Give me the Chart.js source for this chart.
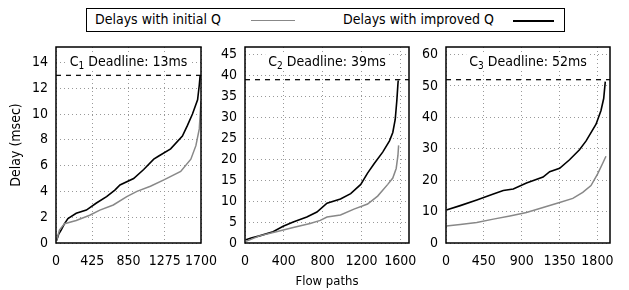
<!DOCTYPE html>
<html>
<head>
<meta charset="utf-8">
<script src="https://cdn.jsdelivr.net/npm/chart.js@4/dist/chart.umd.min.js"></script>
<style>
body { margin: 0; background: #fff; width: 629px; height: 290px; position: relative; overflow: hidden;
       font-family: "DejaVu Sans Condensed", "DejaVu Sans", sans-serif; }
canvas { position: absolute; left: 0; top: 0; }
#legend { position: absolute; left: 86px; top: 8px; width: 477px; height: 22px; border: 1px solid #000; font-size: 14px; }
.lt { position: absolute; top: 2px; color: #000; }
.ls { position: absolute; top: 11px; height: 0; }
</style>
</head>
<body>
<div id="legend"></div>
<canvas id="c1" width="629" height="290"></canvas>
<canvas id="c2" width="629" height="290"></canvas>
<canvas id="c3" width="629" height="290"></canvas>
<script>
// series names / colours
const seriesNames = ["Delays with initial Q", "Delays with improved Q"];
const seriesColors = ["#888888", "#000000"];
const deadlines = [13, 39, 52];

// C1 panel
const c1InitialX = [8, 40, 100, 237, 395, 514, 672, 830, 949, 1107, 1265, 1462, 1581, 1640, 1680, 1700];
const c1InitialY = [0.2, 1.0, 1.5, 1.75, 2.15, 2.55, 2.95, 3.6, 4.0, 4.4, 4.9, 5.55, 6.5, 7.55, 8.85, 11.0];
const c1ImprovedX = [8, 32, 60, 100, 140, 237, 356, 474, 593, 690, 750, 910, 1028, 1146, 1205, 1344, 1482, 1540, 1600, 1660, 1680, 1690];
const c1ImprovedY = [0.2, 0.7, 1.0, 1.5, 1.9, 2.3, 2.55, 3.1, 3.6, 4.1, 4.5, 5.0, 5.7, 6.5, 6.75, 7.3, 8.3, 9.1, 10.0, 11.1, 12.25, 13.0];
const c1XTicks = [0, 425, 850, 1275, 1700];
const c1YTicks = [0, 2, 4, 6, 8, 10, 12, 14];

// C2 panel
const c2InitialX = [10, 150, 323, 497, 671, 776, 845, 984, 1123, 1263, 1367, 1471, 1523, 1558, 1576, 1583];
const c2InitialY = [0.4, 1.7, 2.7, 3.7, 4.65, 5.4, 6.2, 6.7, 8.1, 9.3, 11.2, 14.0, 15.5, 17.8, 20.9, 23.3];
const c2ImprovedX = [10, 63, 150, 289, 393, 497, 637, 741, 845, 984, 1089, 1193, 1263, 1332, 1419, 1489, 1523, 1548, 1565, 1576, 1579];
const c2ImprovedY = [0.8, 1.2, 1.7, 2.7, 4.0, 5.0, 6.2, 7.4, 9.5, 10.5, 11.8, 14.0, 16.7, 19.0, 21.7, 24.4, 26.4, 29.5, 34.1, 38.0, 38.8];
const c2XTicks = [0, 400, 800, 1200, 1600];
const c2YTicks = [0, 5, 10, 15, 20, 25, 30, 35, 40, 45];

// C3 panel
const c3InitialX = [4, 169, 366, 563, 760, 957, 1154, 1351, 1508, 1626, 1724, 1803, 1862, 1902];
const c3InitialY = [5.4, 5.9, 6.5, 7.6, 8.6, 9.7, 11.3, 12.9, 14.2, 16.1, 18.3, 22.0, 25.3, 27.6];
const c3ImprovedX = [4, 169, 366, 563, 681, 800, 957, 1154, 1233, 1351, 1469, 1587, 1666, 1784, 1843, 1875, 1894];
const c3ImprovedY = [10.5, 11.9, 13.7, 15.6, 16.7, 17.2, 19.1, 21.0, 22.7, 23.8, 26.5, 29.7, 32.5, 37.8, 42.2, 46.0, 51.4];
const c3XTicks = [0, 450, 900, 1350, 1800];
const c3YTicks = [0, 10, 20, 30, 40, 50, 60];

const FONT = "'DejaVu Sans Condensed', 'DejaVu Sans', sans-serif";

function zip(xs, ys) {
    return xs.map((x, i) => ({ x: x, y: ys[i] }));
}

// legend (HTML, built from the series arrays)
const legend = document.getElementById("legend");
const legendTextX = [8, 256];
const legendLineX = [[164, 208], [426, 467]];
seriesNames.forEach((name, i) => {
    const t = document.createElement("span");
    t.className = "lt";
    t.style.left = legendTextX[i] + "px";
    t.textContent = name;
    legend.appendChild(t);
    const l = document.createElement("span");
    l.className = "ls";
    l.style.left = legendLineX[i][0] + "px";
    l.style.width = (legendLineX[i][1] - legendLineX[i][0]) + "px";
    l.style.borderTop = (i === 0 ? "1.5px" : "2px") + " solid " + seriesColors[i];
    legend.appendChild(l);
});

const framePlugin = {
    id: "frame",
    afterDraw(chart) {
        const { ctx, chartArea: a } = chart;
        ctx.save();
        ctx.strokeStyle = "#000";
        ctx.lineWidth = 1.5;
        ctx.strokeRect(a.left, a.top, a.right - a.left, a.bottom - a.top);
        ctx.restore();
    }
};

const titlePlugin = {
    id: "deadlineTitle",
    beforeDatasetsDraw(chart, args, o) {
        const { ctx, chartArea: a } = chart;
        const cx = (a.left + a.right) / 2, cy = a.top + 15;
        const big = "14px " + FONT, small = "10px " + FONT;
        const rest = " Deadline: " + o.deadline + "ms";
        ctx.save();
        ctx.font = big;
        const wC = ctx.measureText("C").width;
        const wR = ctx.measureText(rest).width;
        ctx.font = small;
        const wS = ctx.measureText(o.sub).width;
        const w = wC + wS + wR;
        let x = cx - w / 2;
        ctx.fillStyle = "#fff";
        ctx.fillRect(x - 3, cy - 8, w + 6, 16);
        ctx.fillStyle = "#000";
        ctx.textBaseline = "middle";
        ctx.font = big;
        ctx.fillText("C", x, cy);
        x += wC;
        ctx.font = small;
        ctx.fillText(o.sub, x, cy + 4);
        x += wS;
        ctx.font = big;
        ctx.fillText(rest, x, cy);
        ctx.restore();
    }
};

function makePanel(id, p) {
    const tickFont = { family: FONT, size: 14 };
    new Chart(document.getElementById(id), {
        type: "line",
        data: {
            datasets: [
                { label: seriesNames[0], data: zip(p.initX, p.initY), borderColor: seriesColors[0], borderWidth: 1.5, pointRadius: 0 },
                { label: seriesNames[1], data: zip(p.impX, p.impY), borderColor: seriesColors[1], borderWidth: 1.6, pointRadius: 0 },
                { label: "deadline", data: [{ x: 0, y: p.deadline }, { x: p.xMax, y: p.deadline }],
                  borderColor: "#111", borderWidth: 1.3, borderDash: [5, 5], pointRadius: 0 }
            ]
        },
        options: {
            responsive: false,
            animation: false,
            events: [],
            layout: { padding: { left: p.left - p.yW, right: 629 - p.right, top: 47, bottom: 0 } },
            plugins: {
                legend: { display: false },
                tooltip: { enabled: false },
                deadlineTitle: { sub: p.sub, deadline: p.deadline }
            },
            scales: {
                x: {
                    type: "linear", min: 0, max: p.xMax,
                    afterFit: s => { s.height = 47; },
                    afterBuildTicks: s => { s.ticks = p.xTicks.map(v => ({ value: v })); },
                    grid: { color: "#999", lineWidth: 1, drawTicks: false },
                    border: { display: false, dash: [1, 3] },
                    ticks: { font: tickFont, color: "#000", padding: 10, maxRotation: 0, autoSkip: false, callback: v => String(v) },
                    title: { display: !!p.xTitle, text: p.xTitle || "", color: "#000",
                             font: { family: FONT, size: 13 }, padding: { top: 0, bottom: 1 } }
                },
                y: {
                    min: 0, max: p.yMax,
                    afterFit: s => { s.width = p.yW; },
                    afterBuildTicks: s => { s.ticks = p.yTicks.map(v => ({ value: v })); },
                    grid: { color: "#999", lineWidth: 1, drawTicks: false },
                    border: { display: false, dash: [1, 3] },
                    ticks: { font: tickFont, color: "#000", padding: 8, autoSkip: false, callback: v => String(v) },
                    title: { display: !!p.yTitle, text: p.yTitle || "", color: "#000",
                             font: { family: FONT, size: 14 }, padding: { top: 8, bottom: 0 } }
                }
            }
        },
        plugins: [titlePlugin, framePlugin]
    });
}

makePanel("c1", { left: 56, right: 201, yW: 56, xMax: 1700, yMax: 15.2, sub: "1", deadline: deadlines[0],
    initX: c1InitialX, initY: c1InitialY, impX: c1ImprovedX, impY: c1ImprovedY,
    xTicks: c1XTicks, yTicks: c1YTicks, yTitle: "Delay (msec)" });
makePanel("c2", { left: 245, right: 409, yW: 40, xMax: 1690, yMax: 46.8, sub: "2", deadline: deadlines[1],
    initX: c2InitialX, initY: c2InitialY, impX: c2ImprovedX, impY: c2ImprovedY,
    xTicks: c2XTicks, yTicks: c2YTicks, xTitle: "Flow paths" });
makePanel("c3", { left: 446, right: 610, yW: 40, xMax: 1950, yMax: 62.4, sub: "3", deadline: deadlines[2],
    initX: c3InitialX, initY: c3InitialY, impX: c3ImprovedX, impY: c3ImprovedY,
    xTicks: c3XTicks, yTicks: c3YTicks });
</script>
</body>
</html>
